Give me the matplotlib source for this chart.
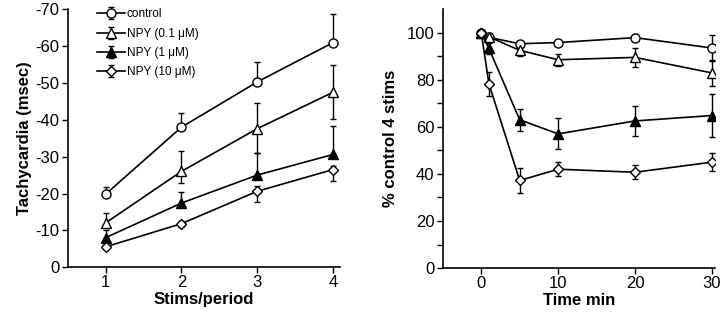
import numpy as np
import matplotlib
matplotlib.use("Agg")
import matplotlib.pyplot as plt

plt.rcParams['font.family'] = ['Liberation Sans', 'DejaVu Sans']
plt.rcParams['axes.unicode_minus'] = False

# Left panel: tachycardia vs stimulation count
stims = [1, 2, 3, 4]
labels = ['control', 'NPY (0.1 \u03bcM)', 'NPY (1 \u03bcM)', 'NPY (10 \u03bcM)']
tach_control = [-19.8, -38.0, -50.3, -61.0]
tach_npy01 = [-12.0, -26.0, -37.6, -47.5]
tach_npy1 = [-8.0, -17.4, -25.0, -30.6]
tach_npy10 = [-5.5, -11.8, -20.6, -26.5]
# error bar lengths (up = more negative, down = toward zero)
up_control = [2.0, 4.0, 5.5, 7.8]
dn_control = [0.0, 0.0, 0.0, 0.0]
up_npy01 = [2.7, 5.5, 7.0, 7.4]
dn_npy01 = [1.5, 3.2, 6.5, 7.2]
up_npy1 = [2.0, 3.0, 6.0, 7.8]
dn_npy1 = [0.0, 0.0, 0.0, 0.0]
up_npy10 = [0.5, 0.8, 1.5, 1.0]
dn_npy10 = [0.5, 0.8, 3.0, 3.0]

# Right panel: % of control response over time
time_min = [0, 1, 5, 10, 20, 30]
pct_control = [100, 98.0, 95.3, 95.8, 97.9, 93.5]
pct_npy01 = [100, 98.2, 92.5, 88.5, 89.5, 82.9]
pct_npy1 = [100, 93.3, 63.0, 57.0, 62.5, 64.8]
pct_npy10 = [100, 78.3, 37.2, 42.0, 40.7, 45.0]
err_control = [0, 0, 1.0, 1.0, 1.5, 5.5]
err_npy01 = [0, 1.5, 2.2, 2.5, 4.2, 5.5]
err_npy1 = [0, 2.5, 4.7, 6.6, 6.5, 9.2]
err_npy10 = [0, 5.0, 5.2, 3.0, 3.0, 3.8]

styles = [
    dict(marker='o', mfc='white', ms=6.5),
    dict(marker='^', mfc='white', ms=6.5),
    dict(marker='^', mfc='black', ms=6.5),
    dict(marker='D', mfc='white', ms=4.8),
]

fig = plt.figure(figsize=(7.2, 3.15), dpi=100)
ax1 = fig.add_axes([0.094, 0.152, 0.378, 0.818])
ax2 = fig.add_axes([0.615, 0.149, 0.378, 0.822])

left_series = [
    (tach_control, dn_control, up_control),
    (tach_npy01, dn_npy01, up_npy01),
    (tach_npy1, dn_npy1, up_npy1),
    (tach_npy10, dn_npy10, up_npy10),
]
for (vals, dn, up), st, lab in zip(left_series, styles, labels):
    # axis inverted: "up" on screen is more negative
    ax1.errorbar(stims, vals, yerr=[up, dn], color='black', mec='black',
                 lw=1.2, elinewidth=1.0, capsize=2.5, capthick=1.0,
                 mew=1.0, label=lab, **st)

ax1.set_xlim(0.5, 4.09)
ax1.set_ylim(0, -70)
ax1.set_xticks(stims)
ax1.set_yticks(np.arange(0, -71, -10))
ax1.set_xlabel('Stims/period', fontsize=12, fontweight='bold', labelpad=1)
ax1.set_ylabel('Tachycardia (msec)', fontsize=12, fontweight='bold', labelpad=2)
ax1.legend(loc='upper left', bbox_to_anchor=(0.07, 1.045), frameon=False,
           fontsize=8.5, handlelength=2.3, handletextpad=0.2, labelspacing=0.62)

right_series = [
    (pct_control, err_control),
    (pct_npy01, err_npy01),
    (pct_npy1, err_npy1),
    (pct_npy10, err_npy10),
]
for (vals, err), st in zip(right_series, styles):
    ax2.errorbar(time_min, vals, yerr=err, color='black', mec='black',
                 lw=1.2, elinewidth=1.0, capsize=2.5, capthick=1.0,
                 mew=1.0, **st)

ax2.set_xlim(-5, 30.4)
ax2.set_ylim(0, 110)
ax2.set_xticks([0, 10, 20, 30])
ax2.set_yticks(np.arange(0, 101, 20))
ax2.set_yticks(np.arange(10, 101, 20), minor=True)
ax2.set_xlabel('Time min', fontsize=12, fontweight='bold', labelpad=1)
ax2.set_ylabel('% control 4 stims', fontsize=12, fontweight='bold', labelpad=6)

for ax in (ax1, ax2):
    for side in ('top', 'right'):
        ax.spines[side].set_visible(False)
    ax.spines['left'].set_linewidth(1.2)
    ax.spines['bottom'].set_linewidth(1.2)
    ax.tick_params(which='both', direction='out', length=4, width=1.0,
                   labelsize=12, pad=2)

fig.savefig('out.png', dpi=100)
